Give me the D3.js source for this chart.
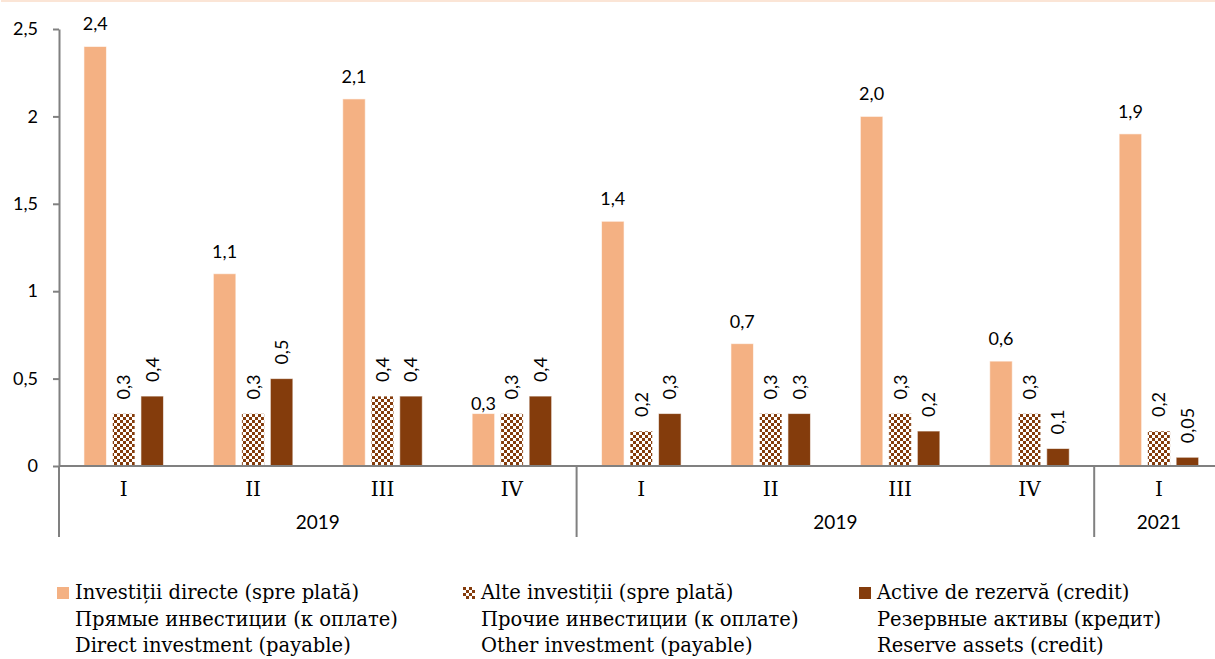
<!DOCTYPE html>
<html>
<head>
<meta charset="utf-8">
<script src="https://cdn.jsdelivr.net/npm/d3@7"></script>
<style>
  body { margin: 0; background: #fff; }
  svg { display: block; }
</style>
</head>
<body>
<div id="chart"></div>
<script>
// quarters along the bottom, grouped by year
const quarters = ['I', 'II', 'III', 'IV', 'I', 'II', 'III', 'IV', 'I'];
const yearLabels = ['2019', '2019', '2021'];
const yearSpans = [4, 4, 1];

const direct = [2.4, 1.1, 2.1, 0.3, 1.4, 0.7, 2.0, 0.6, 1.9];
const other = [0.3, 0.3, 0.4, 0.3, 0.2, 0.3, 0.3, 0.3, 0.2];
const reserve = [0.4, 0.5, 0.4, 0.4, 0.3, 0.3, 0.2, 0.1, 0.05];

const yTicks = [0, 0.5, 1, 1.5, 2, 2.5];

const legendLines = [
    ['Investiții directe (spre plată)', 'Прямые инвестиции (к оплате)', 'Direct investment (payable)'],
    ['Alte investiții (spre plată)', 'Прочие инвестиции (к оплате)', 'Other investment (payable)'],
    ['Active de rezervă (credit)', 'Резервные активы (кредит)', 'Reserve assets (credit)']
];

const fmt = {
    width: 1215,
    height: 659,
    left: 59,
    top: 29,
    bottom: 466,
    groupWidth: 129.4,
    orange: '#f4b183',
    brown: '#843c0c',
    axis: '#808080',
    sans: 'Lato, "Liberation Sans", sans-serif',
    serif: '"DejaVu Serif", "Liberation Serif", serif'
};

const locale = d3.formatLocale({ decimal: ',', thousands: ' ', grouping: [3], currency: ['', ''] });
const num = locale.format('~g');
// data labels keep one decimal, two for the small ones
const label = (d) => locale.format(d < 0.1 ? '.2f' : '.1f')(d);

let svg = d3.select('#chart').append('svg')
    .attr('width', fmt.width)
    .attr('height', fmt.height);

// checkerboard fill for "other investment"
let pat = svg.append('defs').append('pattern')
    .attr('id', 'checker')
    .attr('patternUnits', 'userSpaceOnUse')
    .attr('width', 6)
    .attr('height', 6);
pat.append('rect').attr('width', 6).attr('height', 6).attr('fill', '#fff');
pat.append('rect').attr('width', 3).attr('height', 3).attr('fill', fmt.brown);
pat.append('rect').attr('x', 3).attr('y', 3).attr('width', 3).attr('height', 3).attr('fill', fmt.brown);

// thin peach rule on top edge
svg.append('line')
    .attr('x1', 1).attr('x2', fmt.width)
    .attr('y1', 1).attr('y2', 1)
    .attr('stroke', '#fbe5d6')
    .attr('stroke-width', 2);

let x = d3.scaleBand()
    .domain(d3.range(quarters.length))
    .range([fmt.left, fmt.left + quarters.length * fmt.groupWidth]);

let series = [
    { key: 'direct', values: direct, fill: fmt.orange, rotate: false },
    { key: 'other', values: other, fill: 'url(#checker)', rotate: true },
    { key: 'reserve', values: reserve, fill: fmt.brown, rotate: true }
];

let xi = d3.scaleBand()
    .domain(series.map((s) => s.key))
    .range([0, x.bandwidth()])
    .paddingInner(0.21)
    .paddingOuter(0.875);

let y = d3.scaleLinear().domain([0, 2.5]).range([fmt.bottom, fmt.top]);

// y axis
let yAxis = svg.append('g')
    .attr('transform', 'translate(' + fmt.left + ',0)')
    .call(d3.axisLeft(y).tickValues(yTicks).tickFormat(num).tickSize(6).tickSizeOuter(0).tickPadding(15));
yAxis.select('.domain').attr('stroke', fmt.axis).attr('stroke-width', 2);
yAxis.selectAll('.tick line').attr('stroke', fmt.axis).attr('stroke-width', 2);
yAxis.selectAll('.tick text')
    .attr('fill', '#000')
    .style('font-family', fmt.sans)
    .style('font-size', '18px');

// bars
series.forEach((s) => {
    svg.append('g').selectAll('rect')
        .data(s.values)
        .enter().append('rect')
        .attr('x', (d, i) => x(i) + xi(s.key))
        .attr('y', (d) => y(d))
        .attr('width', xi.bandwidth())
        .attr('height', (d) => y(0) - y(d))
        .attr('fill', s.fill)
        .attr('stroke', '#fff')
        .attr('stroke-opacity', 0.6)
        .attr('stroke-width', 1);

    let labels = svg.append('g').selectAll('text')
        .data(s.values)
        .enter().append('text')
        .style('font-family', fmt.sans)
        .style('font-size', '18px')
        .attr('fill', '#000')
        .text(label);

    if (s.rotate) {
        labels
            .attr('transform', (d, i) => 'translate(' + (x(i) + xi(s.key) + xi.bandwidth() / 2) + ',' + (y(d) - 14) + ') rotate(-90)')
            .attr('dy', '0.36em')
            .attr('text-anchor', 'start');
    } else {
        labels
            .attr('x', (d, i) => x(i) + xi(s.key) + xi.bandwidth() / 2)
            .attr('y', (d, i) => y(d) - (d <= other[i] ? 4 : 16))
            .attr('text-anchor', 'middle');
    }
});

// x axis line and group separators
svg.append('line')
    .attr('x1', fmt.left).attr('x2', fmt.width)
    .attr('y1', y(0)).attr('y2', y(0))
    .attr('stroke', fmt.axis).attr('stroke-width', 2);

let starts = [0];
yearSpans.forEach((n, i) => starts.push(starts[i] + n));

svg.append('g').selectAll('line')
    .data(starts.slice(0, -1))
    .enter().append('line')
    .attr('x1', (d) => x(d)).attr('x2', (d) => x(d))
    .attr('y1', y(0)).attr('y2', 537)
    .attr('stroke', fmt.axis).attr('stroke-width', 2);

svg.append('g').selectAll('text')
    .data(quarters)
    .enter().append('text')
    .attr('x', (d, i) => x(i) + x.bandwidth() / 2)
    .attr('y', 496)
    .attr('text-anchor', 'middle')
    .style('font-family', fmt.serif)
    .style('font-size', '20px')
    .text((d) => d);

svg.append('g').selectAll('text')
    .data(yearLabels)
    .enter().append('text')
    .attr('x', (d, i) => (x(starts[i]) + x(starts[i + 1] - 1) + x.bandwidth()) / 2)
    .attr('y', 529)
    .attr('text-anchor', 'middle')
    .style('font-family', fmt.sans)
    .style('font-size', '19px')
    .text((d) => d);

// legend
let legendX = [57, 463, 859];
let legend = svg.append('g').selectAll('g')
    .data(series)
    .enter().append('g')
    .attr('transform', (d, i) => 'translate(' + legendX[i] + ',587)');

legend.append('rect')
    .attr('width', 12)
    .attr('height', 12)
    .attr('fill', (d) => d.fill);

legend.each(function(d, i) {
    d3.select(this).selectAll('text')
        .data(legendLines[i])
        .enter().append('text')
        .attr('x', 18)
        .attr('y', (t, j) => 12 + j * 26.5)
        .style('font-family', fmt.serif)
        .style('font-size', '19.5px')
        .attr('fill', '#000')
        .text((t) => t);
});
</script>
</body>
</html>
